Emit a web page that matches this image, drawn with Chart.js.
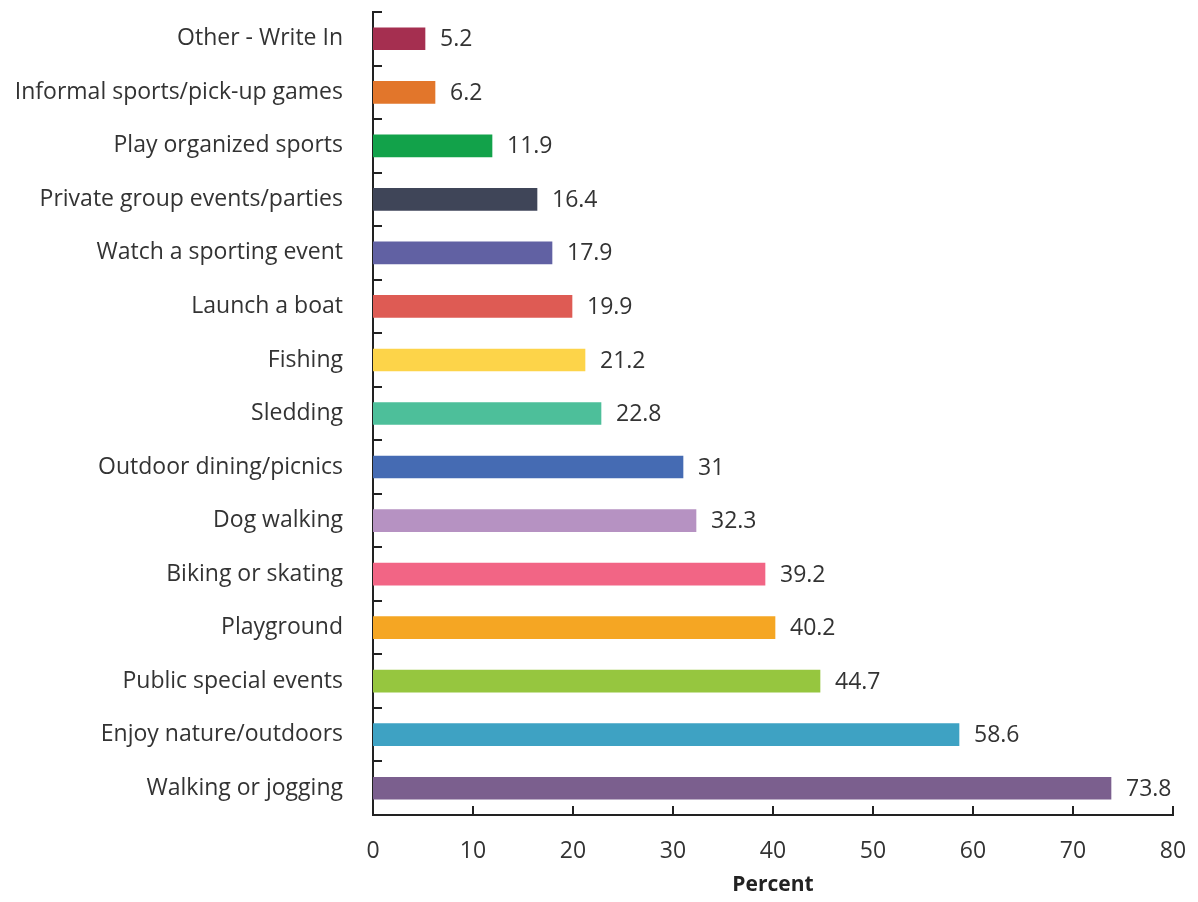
<!DOCTYPE html>
<html>
<head>
<meta charset="utf-8">
<script src="https://cdn.jsdelivr.net/npm/chart.js@4"></script>
<style>
  html, body { margin: 0; padding: 0; background: #fff; }
  #wrap { width: 1198px; height: 902px; }
</style>
</head>
<body>
<div id="wrap"><canvas id="myChart"></canvas></div>
<script>
const categories = [
  'Other - Write In', 'Informal sports/pick-up games', 'Play organized sports',
  'Private group events/parties', 'Watch a sporting event', 'Launch a boat',
  'Fishing', 'Sledding', 'Outdoor dining/picnics', 'Dog walking',
  'Biking or skating', 'Playground', 'Public special events',
  'Enjoy nature/outdoors', 'Walking or jogging'
];
const percents = [5.2, 6.2, 11.9, 16.4, 17.9, 19.9, 21.2, 22.8, 31, 32.3, 39.2, 40.2, 44.7, 58.6, 73.8];
const barColors = [
  '#A52F50', '#E2762B', '#12A24A', '#3F4558', '#6161A3', '#DE5B54',
  '#FDD449', '#4DBF9A', '#456BB3', '#B692C2', '#F26585', '#F5A623',
  '#96C63F', '#3EA2C3', '#7B5F8E'
];
const xTicks = [0, 10, 20, 30, 40, 50, 60, 70, 80];

const FONT = '"Open Sans", "Noto Sans", sans-serif';
const AXIS = '#222';

// value labels at the bar ends
const valueLabels = {
  id: 'valueLabels',
  afterDatasetsDraw(chart) {
    const ctx = chart.ctx;
    const meta = chart.getDatasetMeta(0);
    ctx.save();
    ctx.font = '23px ' + FONT;
    ctx.fillStyle = '#333';
    ctx.textAlign = 'left';
    ctx.textBaseline = 'middle';
    meta.data.forEach((bar, i) => {
      ctx.fillText(String(percents[i]), bar.x + 15, bar.y + 1);
    });
    ctx.restore();
  }
};

// small tick marks pointing into the plot
const innerTicks = {
  id: 'innerTicks',
  afterDraw(chart) {
    const ctx = chart.ctx;
    const x = chart.scales.x, y = chart.scales.y;
    ctx.save();
    ctx.strokeStyle = AXIS;
    ctx.lineWidth = 2;
    ctx.beginPath();
    xTicks.forEach(v => {
      if (v === 0) return;
      const px = Math.round(x.getPixelForValue(v));
      ctx.moveTo(px, y.bottom);
      ctx.lineTo(px, y.bottom - 9);
    });
    for (let i = 0; i <= categories.length; i++) {
      const py = Math.round(y.getPixelForValue(i - 0.5));
      ctx.moveTo(x.left, py);
      ctx.lineTo(x.left + 9, py);
    }
    ctx.stroke();
    ctx.restore();
  }
};

new Chart(document.getElementById('myChart'), {
  type: 'bar',
  data: {
    labels: categories,
    datasets: [{
      data: percents,
      backgroundColor: barColors,
      barThickness: 22
    }]
  },
  options: {
    indexAxis: 'y',
    responsive: true,
    maintainAspectRatio: false,
    animation: false,
    layout: { padding: { top: 12, right: 25, left: 0, bottom: 0 } },
    plugins: { legend: { display: false }, tooltip: { enabled: false } },
    scales: {
      x: {
        min: 0, max: 80,
        afterBuildTicks(s) { s.ticks = xTicks.map(v => ({ value: v })); },
        grid: { display: false, drawTicks: false },
        border: { display: true, color: AXIS, width: 2 },
        ticks: { color: '#333', font: { family: FONT, size: 23 }, padding: 23 },
        title: { display: true, text: 'Percent', color: '#222', font: { family: FONT, size: 21, weight: 'bold' }, padding: { top: 6 } },
        afterFit(s) { s.height = 87; s.paddingLeft = 0; s.paddingRight = 0; }
      },
      y: {
        offset: true,
        grid: { display: false, drawTicks: false },
        border: { display: true, color: AXIS, width: 2 },
        ticks: { color: '#333', font: { family: FONT, size: 23 }, padding: 30, autoSkip: false },
        afterFit(s) { s.width = 373; s.paddingTop = 0; s.paddingBottom = 0; }
      }
    }
  },
  plugins: [valueLabels, innerTicks]
});
</script>
</body>
</html>
